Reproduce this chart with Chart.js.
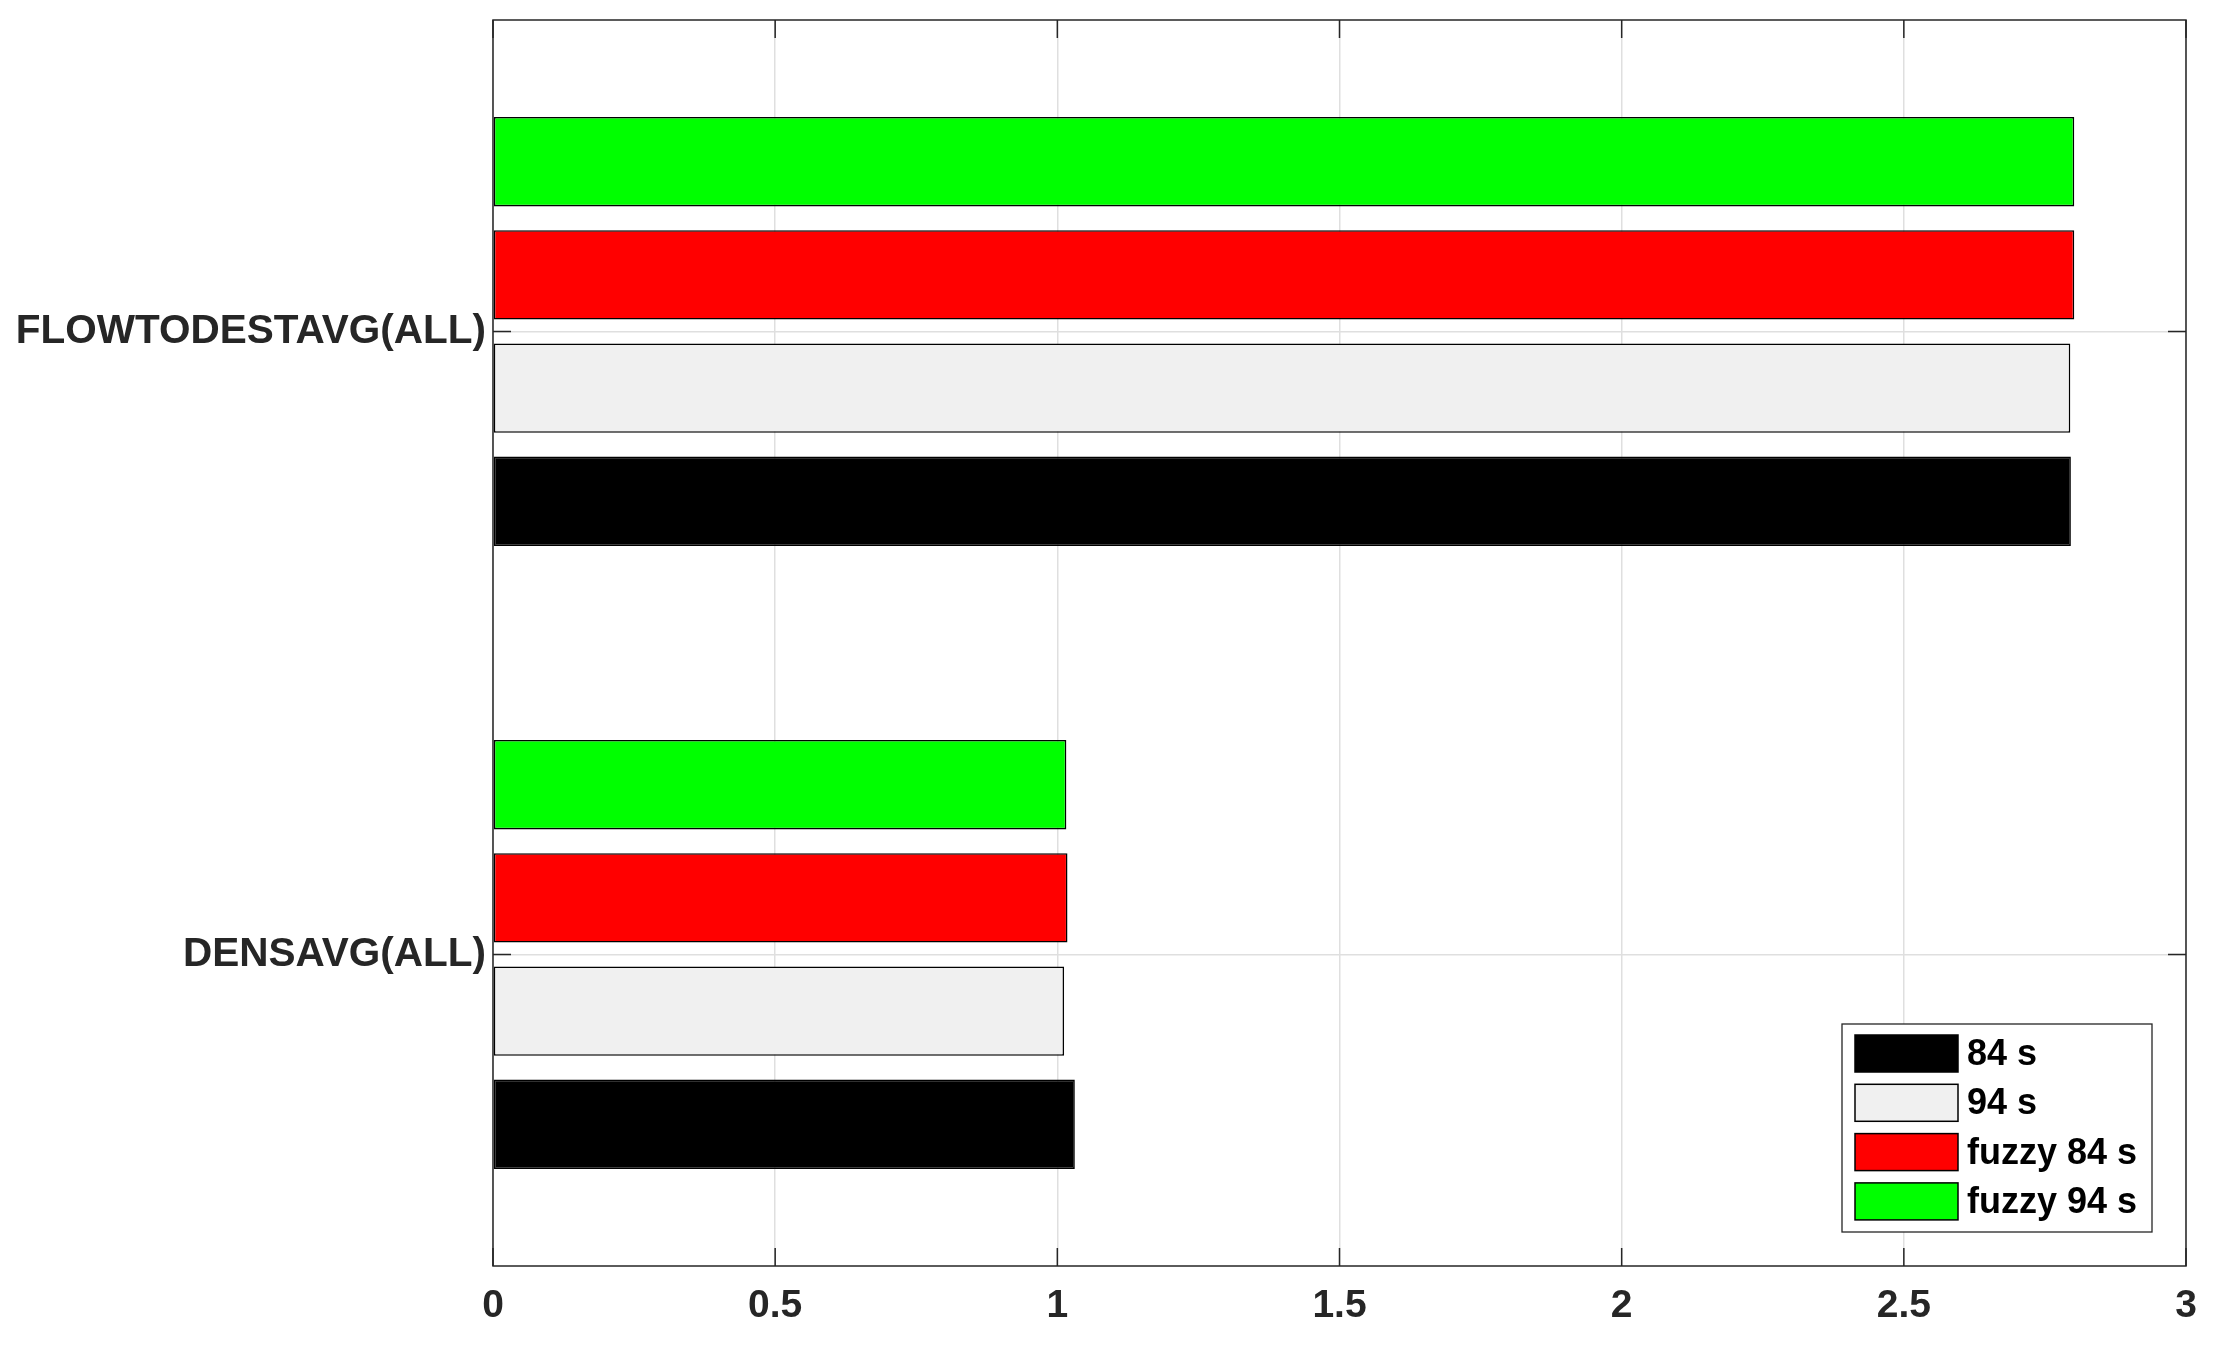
<!DOCTYPE html>
<html>
<head>
<meta charset="utf-8">
<script src="https://cdn.jsdelivr.net/npm/chart.js@4"></script>
<style>
  html, body { margin: 0; padding: 0; background: #ffffff; }
  #wrap { width: 2219px; height: 1345px; }
</style>
</head>
<body>
<div id="wrap"><canvas id="barChart" width="2219" height="1345"></canvas></div>
<script>
// categories, top to bottom as drawn
const categories = ["FLOWTODESTAVG(ALL)", "DENSAVG(ALL)"];
const xTicks = [0, 0.5, 1, 1.5, 2, 2.5, 3];

// series values (same order as categories)
const s84 = [2.796, 1.031];
const s94 = [2.795, 1.012];
const fuzzy84 = [2.802, 1.018];
const fuzzy94 = [2.802, 1.016];

const seriesNames = ["84 s", "94 s", "fuzzy 84 s", "fuzzy 94 s"];
const seriesColors = ["#000000", "#f0f0f0", "#ff0000", "#00ff00"];
const seriesData = [s84, s94, fuzzy84, fuzzy94];

const AXIS_COLOR = "#262626";
const FONT = "'Liberation Sans', Arial, sans-serif";

// Chart.js stacks datasets top-down inside a group, MATLAB bottom-up, so reverse
const datasets = seriesData.map((d, i) => ({
  label: seriesNames[i],
  data: d,
  backgroundColor: seriesColors[i],
  borderColor: "#000000",
  borderWidth: 1.6,
  borderSkipped: false,
  categoryPercentage: 0.727,
  barPercentage: 0.79
})).reverse();

// box around the plot + inward tick marks, like MATLAB's "box on"
const boxPlugin = {
  id: "matlabBox",
  afterDatasetsDraw(chart) {
    const { ctx, chartArea: a, scales } = chart;
    ctx.save();
    ctx.strokeStyle = AXIS_COLOR;
    ctx.lineWidth = 1.5;
    ctx.strokeRect(a.left, a.top, a.right - a.left, a.bottom - a.top);
    const tl = 18;
    ctx.beginPath();
    xTicks.forEach(v => {
      const x = scales.x.getPixelForValue(v);
      ctx.moveTo(x, a.bottom); ctx.lineTo(x, a.bottom - tl);
      ctx.moveTo(x, a.top); ctx.lineTo(x, a.top + tl);
    });
    categories.forEach((c, i) => {
      const y = scales.y.getPixelForValue(i);
      ctx.moveTo(a.left, y); ctx.lineTo(a.left + tl, y);
      ctx.moveTo(a.right, y); ctx.lineTo(a.right - tl, y);
    });
    ctx.stroke();
    ctx.restore();
  },
  afterDraw(chart) {
    // legend box, bottom-right inside the axes
    const { ctx, chartArea: a } = chart;
    const bx = a.right - 344, by = a.bottom - 242, bw = 310, bh = 208;
    ctx.save();
    ctx.fillStyle = "#ffffff";
    ctx.fillRect(bx, by, bw, bh);
    ctx.strokeStyle = AXIS_COLOR;
    ctx.lineWidth = 1.3;
    ctx.strokeRect(bx, by, bw, bh);
    ctx.font = "bold 36px " + FONT;
    ctx.textBaseline = "middle";
    ctx.textAlign = "left";
    ctx.lineWidth = 1.5;
    seriesNames.forEach((name, i) => {
      const sy = by + 11 + i * 49.3;
      ctx.fillStyle = seriesColors[i];
      ctx.fillRect(bx + 13, sy, 103, 37);
      ctx.strokeStyle = "#000000";
      ctx.strokeRect(bx + 13, sy, 103, 37);
      ctx.fillStyle = "#000000";
      ctx.fillText(name, bx + 125, sy + 20);
    });
    ctx.restore();
  }
};

new Chart(document.getElementById("barChart"), {
  type: "bar",
  data: { labels: categories, datasets: datasets },
  options: {
    indexAxis: "y",
    responsive: false,
    animation: false,
    layout: { padding: { top: 20, right: 33, left: 0, bottom: 0 } },
    plugins: { legend: { display: false }, tooltip: { enabled: false } },
    scales: {
      x: {
        min: 0,
        max: 3,
        afterBuildTicks: s => { s.ticks = xTicks.map(v => ({ value: v })); },
        afterFit: s => { s.height = 79; s.paddingLeft = 0; s.paddingRight = 0; },
        grid: { color: "#dfdfdf", lineWidth: 1.5, drawTicks: false },
        border: { display: false },
        ticks: {
          padding: 17,
          color: AXIS_COLOR,
          font: { family: FONT, size: 39, weight: "bold" },
          callback: v => String(v)
        }
      },
      y: {
        afterFit: s => { s.width = 493; s.paddingTop = 0; s.paddingBottom = 0; },
        grid: { color: "#dfdfdf", lineWidth: 1.5, drawTicks: false, offset: false },
        border: { display: false },
        ticks: {
          padding: 7,
          color: AXIS_COLOR,
          font: { family: FONT, size: 40.5, weight: "bold" }
        }
      }
    }
  },
  plugins: [boxPlugin]
});
</script>
</body>
</html>
